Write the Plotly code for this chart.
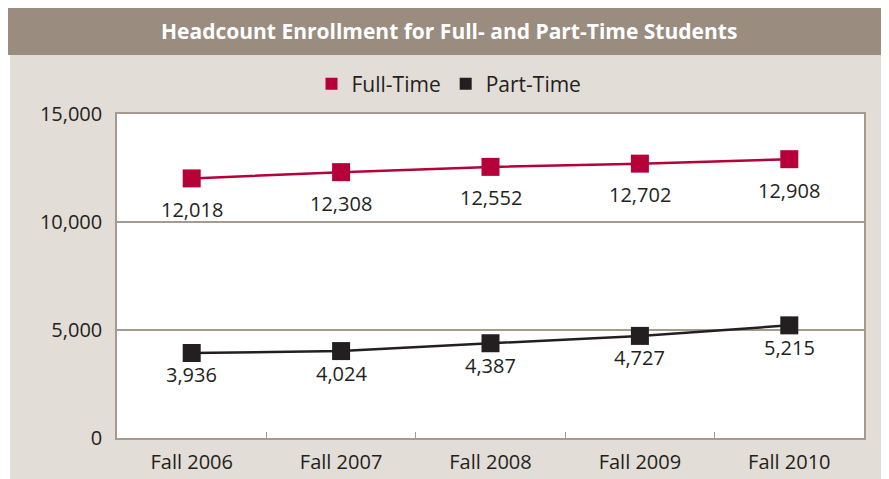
import plotly.graph_objects as go

categories = ["Fall 2006", "Fall 2007", "Fall 2008", "Fall 2009", "Fall 2010"]
full_time = [12018, 12308, 12552, 12702, 12908]
part_time = [3936, 4024, 4387, 4727, 5215]
y_ticks = [0, 5000, 10000, 15000]

RED = "#b5003a"
BLACK = "#231f20"
TAUPE = "#a59a90"
BEIGE = "#e2ddd7"
BAR = "#9a8c7e"
FONT = "Open Sans"

# page body has an 8px margin; work in screen pixels and convert
OFF = 8
W, H = 889 - OFF, 479 - OFF
PL, PR, PT, PB = 117, 864, 114, 438  # plot area in screen px
ml, mr, mt, mb = PL - OFF, 889 - PR, PT - OFF, 479 - PB
plot_w = PR - PL
plot_h = PB - PT

def px_x(p):
    return (p - PL) / plot_w

def px_y(p):
    return (PB - p) / plot_h

fig = go.Figure()

series = [("Full-Time", full_time, RED, 31), ("Part-Time", part_time, BLACK, 22)]
for name, vals, col, shift in series:
    fig.add_trace(go.Scatter(
        x=categories, y=vals, mode="lines+markers",
        line=dict(color=col, width=2.5),
        marker=dict(symbol="square", size=18, color=col),
        showlegend=False, cliponaxis=False,
    ))
    fig.add_trace(go.Scatter(
        x=[None], y=[None], mode="markers", name=name,
        marker=dict(symbol="square", size=17, color=col),
    ))
    for c, v in zip(categories, vals):
        fig.add_annotation(
            x=c, y=v, text=f"{v:,}", showarrow=False,
            xanchor="center", yanchor="middle", yshift=-shift,
            font=dict(family=FONT, size=20, color=BLACK),
        )

fig.update_layout(
    width=W, height=H,
    margin=dict(l=ml, r=mr, t=mt, b=mb, autoexpand=False),
    paper_bgcolor="white",
    plot_bgcolor="white",
    font=dict(family=FONT, color=BLACK),
    legend=dict(orientation="h", x=px_x(449), xanchor="center",
                y=px_y(84), yanchor="middle", yref="paper",
                font=dict(size=21, color=BLACK), bgcolor="rgba(0,0,0,0)",
                itemsizing="constant", traceorder="normal"),
    shapes=[
        dict(type="rect", xref="paper", yref="paper", layer="below",
             x0=px_x(10), x1=px_x(889), y0=px_y(479), y1=px_y(55),
             line_width=0, fillcolor=BEIGE),
        dict(type="rect", xref="paper", yref="paper", layer="below",
             x0=px_x(6), x1=px_x(889), y0=px_y(55), y1=px_y(7),
             line_width=0, fillcolor=BAR),
        dict(type="rect", xref="paper", yref="paper", layer="below",
             x0=0, x1=1, y0=0, y1=1, line_width=0, fillcolor="white"),
    ],
)

fig.add_annotation(
    text="<b>Headcount Enrollment for Full- and Part-Time Students</b>",
    xref="paper", yref="paper", x=px_x(449), y=px_y(31),
    xanchor="center", yanchor="middle", showarrow=False,
    font=dict(family=FONT, size=21, color="white"),
)

fig.update_xaxes(
    type="category", range=[-0.5, 4.5], automargin=False,
    showline=True, linecolor=TAUPE, linewidth=1.5, mirror=True,
    ticks="inside", tickson="boundaries", ticklen=6, tickcolor=TAUPE,
    showgrid=False, tickfont=dict(size=20, color=BLACK),
    ticklabelstandoff=5,
)
fig.update_yaxes(
    range=[0, 15000], tickvals=y_ticks, tickformat=",", automargin=False,
    showline=True, linecolor=TAUPE, linewidth=1.5, mirror=True,
    showgrid=True, gridcolor=TAUPE, gridwidth=1.5,
    zeroline=False, ticks="", tickfont=dict(size=20, color=BLACK),
    ticklabelstandoff=9,
)

fig.write_html("out.html")
